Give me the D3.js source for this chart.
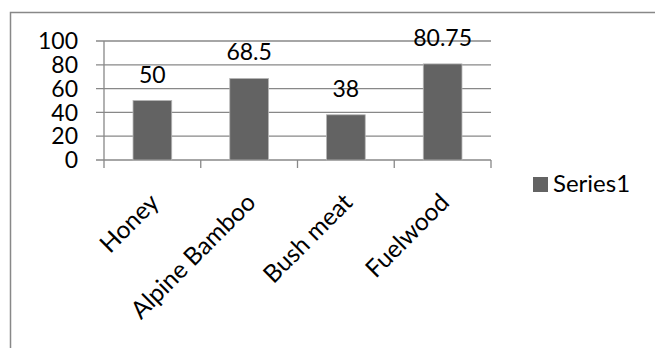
<!DOCTYPE html>
<html>
<head>
<meta charset="utf-8">
<script src="https://cdn.jsdelivr.net/npm/d3@7"></script>
<style>
  html, body { margin: 0; padding: 0; background: #fff; }
  svg { display: block; }
  text { font-family: Lato, "Open Sans", sans-serif; fill: #000; }
</style>
</head>
<body>
<svg id="chart" width="655" height="348"></svg>
<script>
// Chart data
const categories = ["Honey", "Alpine Bamboo", "Bush meat", "Fuelwood"];
const values = [50, 68.5, 38, 80.75];
const valueLabels = ["50", "68.5", "38", "80.75"];
const yTicks = [0, 20, 40, 60, 80, 100];
const seriesName = "Series1";

const svg = d3.select("#chart");
const W = 655, H = 348;
const plot = { left: 104, right: 491, top: 41, bottom: 160 };

const gridColor = "#888888";
const barColor = "#636363";

// Outer chart frame (runs off the right and bottom edges)
svg.append("rect")
  .attr("x", 10.5).attr("y", 12.5)
  .attr("width", W).attr("height", H)
  .attr("fill", "none")
  .attr("stroke", gridColor)
  .attr("stroke-width", 1.5);

const x = d3.scaleBand()
  .domain(categories)
  .range([plot.left, plot.right])
  .paddingInner(0.6)
  .paddingOuter(0.3);

const y = d3.scaleLinear()
  .domain([0, 100])
  .range([plot.bottom, plot.top]);

// Horizontal gridlines, extending left past the axis as tick marks
svg.append("g")
  .selectAll("line")
  .data(yTicks)
  .join("line")
  .attr("x1", plot.left - 8)
  .attr("x2", plot.right)
  .attr("y1", d => y(d))
  .attr("y2", d => y(d))
  .attr("stroke", gridColor)
  .attr("stroke-width", 1.3);

// Y axis labels
svg.append("g")
  .selectAll("text")
  .data(yTicks)
  .join("text")
  .attr("x", plot.left - 26)
  .attr("y", d => y(d))
  .attr("dy", "0.36em")
  .attr("text-anchor", "end")
  .style("font-size", "23px")
  .text(d => d);

// Vertical axis line
svg.append("line")
  .attr("x1", plot.left).attr("x2", plot.left)
  .attr("y1", y(100)).attr("y2", y(0))
  .attr("stroke", gridColor)
  .attr("stroke-width", 1.3);

// Category boundary ticks below the baseline
const step = (plot.right - plot.left) / categories.length;
svg.append("g")
  .selectAll("line")
  .data(d3.range(categories.length + 1))
  .join("line")
  .attr("x1", i => plot.left + i * step)
  .attr("x2", i => plot.left + i * step)
  .attr("y1", y(0))
  .attr("y2", y(0) + 8)
  .attr("stroke", gridColor)
  .attr("stroke-width", 1.3);

// Bars
svg.append("g")
  .selectAll("rect")
  .data(values)
  .join("rect")
  .attr("x", (d, i) => x(categories[i]))
  .attr("width", x.bandwidth())
  .attr("y", d => y(d))
  .attr("height", d => y(0) - y(d))
  .attr("fill", barColor)
  .attr("stroke", "#b5b5b5")
  .attr("stroke-width", 0.8);

// Value labels above bars
svg.append("g")
  .selectAll("text")
  .data(values)
  .join("text")
  .attr("x", (d, i) => x(categories[i]) + x.bandwidth() / 2)
  .attr("y", d => y(d) - 18)
  .attr("text-anchor", "middle")
  .style("font-size", "23px")
  .text((d, i) => valueLabels[i]);

// Rotated category labels
svg.append("g")
  .selectAll("text")
  .data(categories)
  .join("text")
  .attr("text-anchor", "end")
  .attr("transform", d => {
    const cx = x(d) + x.bandwidth() / 2 + 8;
    return `translate(${cx},${y(0) + 44}) rotate(-45)`;
  })
  .style("font-size", "24.5px")
  .text(d => d);

// Legend
const legend = svg.append("g").attr("transform", "translate(533,177)");
legend.append("rect")
  .attr("x", 0).attr("y", 0)
  .attr("width", 15).attr("height", 15)
  .attr("fill", barColor);
legend.append("text")
  .attr("x", 20).attr("y", 15)
  .style("font-size", "24px")
  .text(seriesName);
</script>
</body>
</html>
